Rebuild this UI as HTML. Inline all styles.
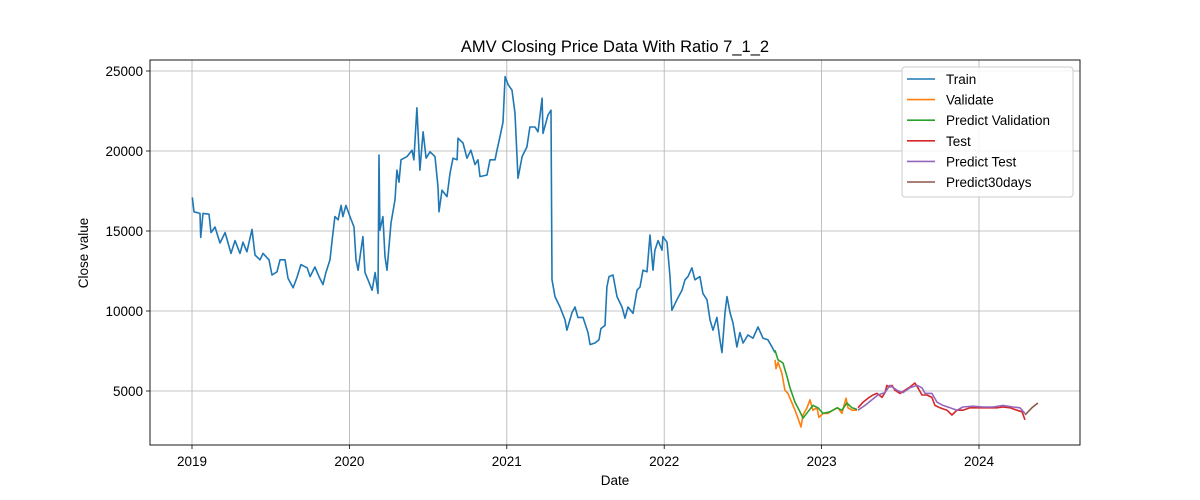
<!DOCTYPE html>
<html><head><meta charset="utf-8"><style>
body{margin:0;background:#fff;}
svg{display:block;font-family:"Liberation Sans","DejaVu Sans",sans-serif;}
</style></head><body>
<svg id="chart" width="1200" height="500"></svg>
<script>
const trainT=[0.002,0.013,0.051,0.055,0.070,0.108,0.121,0.146,0.178,0.210,0.248,0.273,0.305,0.324,0.349,0.381,0.400,0.432,0.451,0.489,0.508,0.540,0.559,0.591,0.610,0.642,0.667,0.692,0.731,0.750,0.781,0.807,0.832,0.851,0.877,0.889,0.908,0.928,0.947,0.959,0.978,1.004,1.029,1.042,1.055,1.086,1.099,1.118,1.144,1.163,1.182,1.188,1.194,1.213,1.226,1.239,1.264,1.290,1.302,1.315,1.328,1.366,1.398,1.410,1.429,1.448,1.468,1.487,1.512,1.544,1.563,1.569,1.588,1.620,1.639,1.658,1.684,1.690,1.722,1.747,1.772,1.798,1.817,1.830,1.874,1.893,1.925,1.938,1.957,1.976,1.989,2.008,2.033,2.052,2.071,2.097,2.128,2.147,2.179,2.198,2.224,2.230,2.262,2.281,2.287,2.306,2.338,2.370,2.382,2.414,2.433,2.452,2.484,2.516,2.529,2.560,2.586,2.598,2.624,2.636,2.649,2.675,2.700,2.732,2.751,2.770,2.802,2.827,2.846,2.865,2.891,2.910,2.929,2.941,2.961,2.986,2.992,3.018,3.037,3.049,3.081,3.113,3.132,3.151,3.176,3.195,3.227,3.246,3.272,3.291,3.310,3.335,3.354,3.367,3.386,3.399,3.418,3.437,3.462,3.481,3.501,3.532,3.564,3.596,3.628,3.659,3.685,3.704];
const trainV=[17100,16200,16100,14600,16100,16050,14900,15250,14250,14900,13600,14400,13600,14300,13700,15100,13500,13200,13600,13200,12250,12450,13200,13200,12050,11450,12100,12900,12700,12150,12750,12150,11650,12400,13200,14300,15900,15700,16600,15900,16600,15900,15250,13200,12550,14650,12400,11950,11300,12400,11100,19750,15050,15900,13400,12550,15500,16950,18800,18050,19450,19650,20050,19450,22700,18800,21200,19550,19950,19650,17750,16200,17550,17150,18600,19550,19450,20800,20500,19550,20050,19150,19450,18400,18500,19450,19450,20050,20900,21800,24650,24150,23800,22350,18300,19650,20250,21500,21500,21200,23300,21100,22250,22550,11950,10900,10250,9450,8800,9900,10250,9600,9600,8650,7900,8000,8200,8900,9100,11500,12150,12250,10900,10250,9550,10250,9850,11300,11500,12550,12450,14750,12550,13800,14400,13800,14650,14300,12150,10050,10700,11300,11950,12150,12700,11950,12150,11100,10700,9450,8800,9600,8200,7400,9900,10900,9900,9250,7750,8650,8000,8500,8300,9000,8300,8200,7750,7400];
const valT=[3.704,3.710,3.723,3.748,3.767,3.786,3.812,3.831,3.850,3.869,3.882,3.907,3.926,3.945,3.971,3.983,4.009,4.040,4.072,4.104,4.129,4.155,4.168,4.193,4.225];
const valV=[6950,6400,6800,6100,5050,4850,4250,3800,3300,2750,3500,3950,4450,3800,3950,3350,3600,3600,3800,3950,3600,4550,3950,3800,3800];
const pvalT=[3.704,3.723,3.755,3.780,3.799,3.831,3.863,3.882,3.913,3.945,3.977,4.009,4.053,4.098,4.129,4.161,4.193,4.225];
const pvalV=[7550,6950,6750,5900,5200,4300,3700,3300,3700,4100,3950,3600,3700,3950,3800,4250,3950,3850];
const testT=[4.231,4.263,4.295,4.326,4.352,4.384,4.403,4.415,4.434,4.447,4.466,4.498,4.530,4.561,4.593,4.612,4.638,4.669,4.701,4.720,4.752,4.797,4.828,4.860,4.898,4.943,4.987,5.025,5.070,5.114,5.152,5.197,5.241,5.273,5.292];
const testV=[3950,4300,4550,4750,4850,4600,4900,5350,5250,5350,5050,4850,5050,5250,5500,5200,4750,4750,4600,4100,3950,3800,3500,3800,3800,3950,3950,3950,3950,3950,4000,3950,3800,3700,3200];
const ptestT=[4.231,4.276,4.320,4.358,4.403,4.434,4.479,4.517,4.561,4.606,4.638,4.657,4.701,4.733,4.771,4.816,4.860,4.898,4.962,5.025,5.089,5.152,5.216,5.260,5.292];
const ptestV=[3800,4100,4450,4750,4900,5350,5050,4900,5200,5350,5200,4850,4850,4300,4100,3950,3800,4000,4050,4000,4000,4100,4000,3950,3600];
const p30T=[5.292,5.336,5.374];
const p30V=[3500,3950,4250];
const xTickLabels=["2019","2020","2021","2022","2023","2024"];
const xTickVals=[0,1,2,3,4,5];
const yTickVals=[5000,10000,15000,20000,25000];
const legendLabels=["Train","Validate","Predict Validation","Test","Predict Test","Predict30days"];
const colors=["#1f77b4","#ff7f0e","#2ca02c","#d62728","#9467bd","#8c564b"];

const L=150,R=1080,T=60,B=445;
const xs=t=>192+t*157.4;
const ys=v=>471-v/62.5;
const NS="http://www.w3.org/2000/svg";
const svg=document.getElementById('chart');
function mk(tag,attrs,parent){const e=document.createElementNS(NS,tag);for(const k in attrs)e.setAttribute(k,attrs[k]);(parent||svg).appendChild(e);return e;}

xTickVals.forEach((t,i)=>{
  const g=mk('line',{x1:xs(t),x2:xs(t),y1:T,y2:B,stroke:'#b0b0b0','stroke-width':0.8});
  
  
  mk('line',{x1:xs(t),x2:xs(t),y1:B,y2:B+4,stroke:'#000','stroke-width':0.8});
  const tx=mk('text',{x:xs(t),y:B+21,'text-anchor':'middle','font-size':13.5});
  tx.textContent=xTickLabels[i];
  
  
});
yTickVals.forEach(v=>{
  const g=mk('line',{x1:L,x2:R,y1:ys(v),y2:ys(v),stroke:'#b0b0b0','stroke-width':0.8});
  
  
  mk('line',{x1:L-4,x2:L,y1:ys(v),y2:ys(v),stroke:'#000','stroke-width':0.8});
  const tx=mk('text',{x:L-7,y:ys(v)+5,'text-anchor':'end','font-size':13.5});
  tx.textContent=String(v);
  
  
});
const series=[[trainT,trainV,'train-line'],[valT,valV,'validate-line'],[pvalT,pvalV,'predict-validation-line'],[testT,testV,'test-line'],[ptestT,ptestV,'predict-test-line'],[p30T,p30V,'predict30days-line']];
series.forEach((s,i)=>{
  const d=s[0].map((t,j)=>(j?'L':'M')+xs(t).toFixed(1)+','+ys(s[1][j]).toFixed(1)).join('');
  const p=mk('path',{d:d,fill:'none',stroke:colors[i],'stroke-width':1.6,'stroke-linejoin':'round'});
  
  
});
const frame=mk('rect',{x:L,y:T,width:R-L,height:B-T,fill:'none',stroke:'#000','stroke-width':0.9});



const lg=mk('rect',{x:902,y:67,width:171,height:130,rx:3,fill:'#fff','fill-opacity':0.85,stroke:'#ccc'});


legendLabels.forEach((lab,i)=>{
  const y=79+i*20.6;
  mk('line',{x1:907,x2:935,y1:y,y2:y,stroke:colors[i],'stroke-width':1.6});
  const tx=mk('text',{x:946,y:y+5,'font-size':13.5});
  tx.textContent=lab;
  
  
});
const title=mk('text',{x:615,y:52,'text-anchor':'middle','font-size':16.5});
title.textContent='AMV Closing Price Data With Ratio 7_1_2';


const xl=mk('text',{x:615,y:485,'text-anchor':'middle','font-size':13.5});
xl.textContent='Date';


const yl=mk('text',{x:88,y:253,'text-anchor':'middle','font-size':13.5,transform:'rotate(-90 88 253)'});
yl.textContent='Close value';


</script>
</body></html>
